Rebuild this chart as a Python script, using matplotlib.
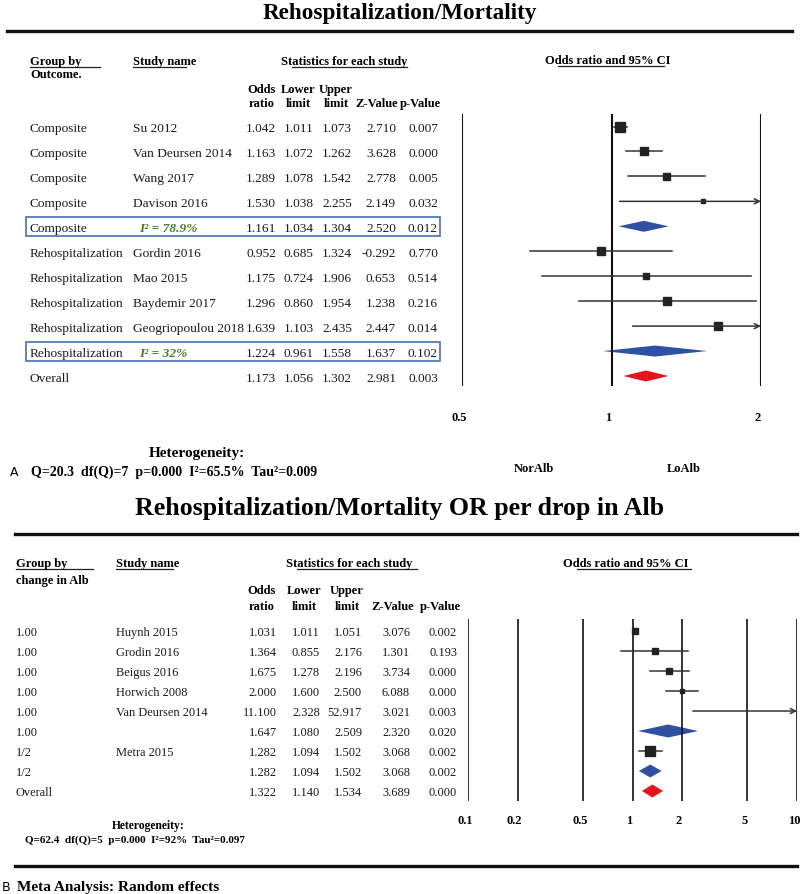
import matplotlib.pyplot as plt
from matplotlib.patches import Rectangle
from matplotlib.transforms import offset_copy

plt.rcParams['font.family'] = ['Liberation Serif', 'DejaVu Serif']

# ---- panel A: grouped by outcome ----
groups_a = ["Composite"] * 5 + ["Rehospitalization"] * 5 + ["Overall"]
studies_a = ["Su 2012", "Van Deursen 2014", "Wang 2017", "Davison 2016", "",
             "Gordin 2016", "Mao 2015", "Baydemir 2017", "Geogriopoulou 2018", "", ""]
or_a = [1.042, 1.163, 1.289, 1.530, 1.161, 0.952, 1.175, 1.296, 1.639, 1.224, 1.173]
lo_a = [1.011, 1.072, 1.078, 1.038, 1.034, 0.685, 0.724, 0.860, 1.103, 0.961, 1.056]
hi_a = [1.073, 1.262, 1.542, 2.255, 1.304, 1.324, 1.906, 1.954, 2.435, 1.558, 1.302]
z_a = [2.710, 3.628, 2.778, 2.149, 2.520, -0.292, 0.653, 1.238, 2.447, 1.637, 2.981]
p_a = [0.007, 0.000, 0.005, 0.032, 0.012, 0.770, 0.514, 0.216, 0.014, 0.102, 0.003]
kind_a = ["study"] * 4 + ["sub"] + ["study"] * 4 + ["sub", "overall"]
weight_a = [10, 8.5, 7, 4, 0, 8.5, 6, 7.5, 8, 0, 0]
i2_a = {4: "I² = 78.9%", 9: "I² = 32%"}
ticks_a = [0.5, 1, 2]
het_a = "Q=20.3  df(Q)=7  p=0.000  I²=65.5%  Tau²=0.009"

# ---- panel B: grouped by change in Alb ----
groups_b = ["1.00"] * 6 + ["1/2"] * 2 + ["Overall"]
studies_b = ["Huynh 2015", "Grodin 2016", "Beigus 2016", "Horwich 2008",
             "Van Deursen 2014", "", "Metra 2015", "", ""]
or_b = [1.031, 1.364, 1.675, 2.000, 11.100, 1.647, 1.282, 1.282, 1.322]
lo_b = [1.011, 0.855, 1.278, 1.600, 2.328, 1.080, 1.094, 1.094, 1.140]
hi_b = [1.051, 2.176, 2.196, 2.500, 52.917, 2.509, 1.502, 1.502, 1.534]
z_b = [3.076, 1.301, 3.734, 6.088, 3.021, 2.320, 3.068, 3.068, 3.689]
p_b = [0.002, 0.193, 0.000, 0.000, 0.003, 0.020, 0.002, 0.002, 0.000]
kind_b = ["study"] * 5 + ["sub", "study", "sub", "overall"]
weight_b = [6, 6, 5.5, 5, 0, 0, 10, 0, 0]
ticks_b = [0.1, 0.2, 0.5, 1, 2, 5, 10]
het_b = "Q=62.4  df(Q)=5  p=0.000  I²=92%  Tau²=0.097"

W, H = 800, 895
BLUE = '#2f51a3'
RED = '#e8141c'
GREEN = '#4a7a2a'
BOX = '#4a70b5'

fig = plt.figure(figsize=(W / 100, H / 100), dpi=100)
bg = fig.add_axes([0, 0, 1, 1])
bg.set_xlim(0, W)
bg.set_ylim(H, 0)
bg.axis('off')


def px_axes(x0, x1, y0, y1):
    ax = fig.add_axes([x0 / W, 1 - y1 / H, (x1 - x0) / W, (y1 - y0) / H])
    ax.set_ylim(y1, y0)
    ax.axis('off')
    return ax


def uline(x0, x1, y):
    bg.plot([x0, x1], [y, y], color='#222', lw=0.9)


def forest(ax, ys, est, lo, hi, kind, wts, ticks, xmin, xmax, y0, y1,
           dh, lw_v, lab_y):
    ax.set_xscale('log')
    ax.set_xlim(xmin, xmax)
    ax.vlines(ticks, y0, y1, color='#111', lw=lw_v)
    tr = offset_copy(ax.transData, fig=fig, x=-3, y=0, units='dots')
    for t in ticks:
        ax.text(t, lab_y, f"{t:g}", ha='center', va='baseline', transform=tr,
                fontsize=9, fontweight='bold', clip_on=False)
    for y, e, l, h, k, w in zip(ys, est, lo, hi, kind, wts):
        if k == 'study':
            if h > xmax:
                ax.annotate('', xy=(xmax, y), xytext=(l, y),
                            arrowprops=dict(arrowstyle='->', lw=1.1, color='#333',
                                            shrinkA=0, shrinkB=0, mutation_scale=9),
                            annotation_clip=False)
            else:
                ax.plot([l, h], [y, y], color='#333', lw=1.1)
            if e < xmax:
                ax.plot(e, y, marker='s', ms=w * 0.72, color='#222', mec='#222')
        else:
            c = RED if k == 'overall' else BLUE
            ax.fill([l, e, h, e], [y, y - dh, y, y + dh], color=c, lw=0)


hb = dict(fontsize=9, fontweight='bold', va='baseline')

# ---------------- panel A ----------------
bg.text(400, 18.5, "Rehospitalization/Mortality", ha='center', va='baseline',
        fontsize=16.7, fontweight='bold')
bg.plot([7, 792], [32, 32], color='#111', lw=2.4)

bg.text(30, 65, "Group by", **hb)
bg.text(30, 78, "Outcome.", **hb)
uline(30, 100, 67.5)
bg.text(133, 65, "Study name", **hb)
uline(133, 186, 67.5)
bg.text(344, 65, "Statistics for each study", ha='center', **hb)
uline(292, 407, 67.5)
bg.text(608, 64, "Odds ratio and 95% CI", ha='center', **hb)
uline(558, 664, 67)
cols_a = [276, 314, 352, 396, 438]
hdr_c_a = [262, 298, 336, 377, 420]
for cx, t1, t2 in zip(hdr_c_a, ["Odds", "Lower", "Upper", "", ""],
                      ["ratio", "limit", "limit", "Z-Value", "p-Value"]):
    bg.text(cx, 93, t1, ha='center', **hb)
    bg.text(cx, 107, t2, ha='center', **hb)

ys_a = [127.5 + 24.95 * i for i in range(len(or_a))]
rt = dict(fontsize=9.6, va='baseline', color='#1a1a1a')
for i, y in enumerate(ys_a):
    yb = y + 4.5
    bg.text(30, yb, groups_a[i], **rt)
    bg.text(133, yb, studies_a[i], **rt)
    vals = [or_a[i], lo_a[i], hi_a[i], z_a[i], p_a[i]]
    for cx, v in zip(cols_a, vals):
        bg.text(cx, yb, f"{v:.3f}", ha='right', **rt)
    if i in i2_a:
        bg.text(139, yb, i2_a[i], color=GREEN, fontsize=9.6, va='baseline',
                fontweight='bold', fontstyle='italic')
        bg.add_patch(Rectangle((26, y - 9.5), 414, 19, fill=False,
                               ec=BOX, lw=1.2))

axA = px_axes(462, 761, 115, 387)
forest(axA, ys_a, or_a, lo_a, hi_a, kind_a, weight_a, ticks_a, 0.5, 2,
       115, 387, 5.5, 1.5, 421)
bg.text(534, 472, "NorAlb", ha='center', va='baseline', fontsize=9, fontweight='bold')
bg.text(684, 472, "LoAlb", ha='center', va='baseline', fontsize=9, fontweight='bold')

bg.text(197, 457, "Heterogeneity:", ha='center', va='baseline', fontsize=11,
        fontweight='bold')
bg.text(31, 476, het_a, va='baseline', fontsize=10, fontweight='bold')
bg.text(10, 476, "A", va='baseline', fontsize=9, family='DejaVu Sans')

# ---------------- panel B ----------------
bg.text(400, 515, "Rehospitalization/Mortality OR per drop in Alb", ha='center',
        va='baseline', fontsize=18.6, fontweight='bold')
bg.plot([15, 797], [535, 535], color='#111', lw=2.4)

bg.text(16, 567, "Group by", **hb)
bg.text(16, 584, "change in Alb", **hb)
uline(16, 93, 570)
bg.text(116, 567, "Study name", **hb)
uline(116, 173, 570)
bg.text(349, 567, "Statistics for each study", ha='center', **hb)
uline(297, 417, 570)
bg.text(626, 567, "Odds ratio and 95% CI", ha='center', **hb)
uline(577, 691, 570)
cols_b = [277, 320, 362, 410, 457]
hdr_c_b = [262, 304, 347, 393, 440]
for cx, t1, t2 in zip(hdr_c_b, ["Odds", "Lower", "Upper", "", ""],
                      ["ratio", "limit", "limit", "Z-Value", "p-Value"]):
    bg.text(cx, 594, t1, ha='center', **hb)
    bg.text(cx, 610, t2, ha='center', **hb)

ys_b = [632 + 20 * i for i in range(len(or_b))]
rb = dict(fontsize=8.9, va='baseline', color='#1a1a1a')
for i, y in enumerate(ys_b):
    yb = y + 4.2
    bg.text(16, yb, groups_b[i], **rb)
    bg.text(116, yb, studies_b[i], **rb)
    vals = [or_b[i], lo_b[i], hi_b[i], z_b[i], p_b[i]]
    for cx, v in zip(cols_b, vals):
        bg.text(cx, yb, f"{v:.3f}", ha='right', **rb)

axB = px_axes(468, 797, 620, 802)
forest(axB, ys_b, or_b, lo_b, hi_b, kind_b, weight_b, ticks_b, 0.1, 10,
       620, 802, 6.5, 1.2, 824)

bg.text(148, 829, "Heterogeneity:", ha='center', va='baseline', fontsize=8.4,
        fontweight='bold')
bg.text(25, 843, het_b, va='baseline', fontsize=8, fontweight='bold')

bg.plot([15, 797], [867, 867], color='#111', lw=2.4)
bg.text(2, 891, "B", va='baseline', fontsize=9, family='DejaVu Sans')
bg.text(17, 891, "Meta Analysis: Random effects", va='baseline', fontsize=11,
        fontweight='bold')

fig.savefig('out.png', dpi=100)
